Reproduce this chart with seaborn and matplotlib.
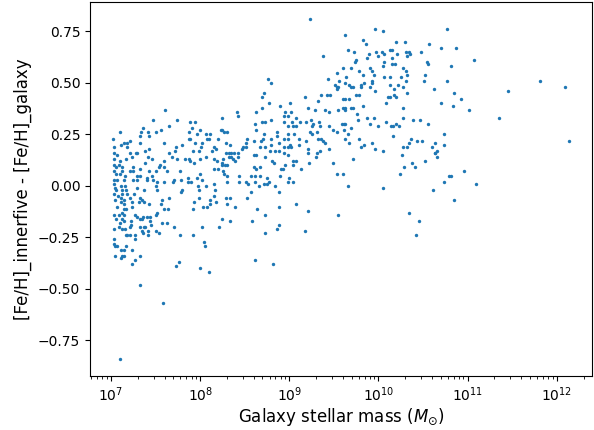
import numpy as np
import pandas as pd
import seaborn as sns
import matplotlib
matplotlib.use("Agg")
import matplotlib.pyplot as plt

# (log10 stellar mass, [Fe/H]_innerfive - [Fe/H]_galaxy)
pts_low_upper = [
    (7.61, 0.37), (7.47, 0.32), (7.74, 0.32), (7.65, 0.29), (7.36, 0.28), (7.89, 0.31), (7.94, 0.31),
    (7.91, 0.28), (7.10, 0.26), (7.34, 0.26), (7.42, 0.26), (7.50, 0.26), (7.56, 0.27), (7.87, 0.26),
    (8.00, 0.27), (7.02, 0.23), (7.32, 0.24), (7.43, 0.24), (7.89, 0.23), (7.96, 0.25), (8.07, 0.25),
    (8.11, 0.25), (8.08, 0.23), (7.21, 0.22), (7.18, 0.21), (7.15, 0.21), (7.11, 0.20), (7.33, 0.21),
    (7.18, 0.19), (7.03, 0.19), (7.87, 0.23), (7.59, 0.21), (7.73, 0.19), (7.80, 0.20), (7.94, 0.21),
    (8.02, 0.21), (8.10, 0.23), (8.20, 0.23), (7.03, 0.16), (7.07, 0.15), (7.21, 0.16), (7.28, 0.16),
    (7.38, 0.17), (7.43, 0.18), (7.65, 0.16), (7.72, 0.17), (7.92, 0.17), (7.99, 0.17), (8.01, 0.19),
    (8.13, 0.17), (8.15, 0.19), (7.24, 0.14), (7.29, 0.16), (7.41, 0.14), (7.46, 0.13), (7.68, 0.14),
    (7.74, 0.13), (7.83, 0.13), (7.87, 0.13), (7.89, 0.12), (7.93, 0.11), (8.00, 0.13), (8.07, 0.14),
    (8.15, 0.13), (8.19, 0.12), (7.03, 0.13), (7.10, 0.12), (7.17, 0.13), (7.38, 0.11), (7.55, 0.10),
    (7.59, 0.12), (7.54, 0.09), (7.63, 0.07), (7.03, 0.10), (7.06, 0.09), (7.09, 0.10), (7.12, 0.09),
    (7.25, 0.09), (7.25, 0.07), (7.32, 0.08), (7.21, 0.07), (7.03, 0.07), (7.06, 0.06), (7.10, 0.06),
    (7.12, 0.07), (7.16, 0.05), (7.43, 0.07), (7.46, 0.05), (7.50, 0.07), (7.59, 0.09), (7.77, 0.07),
    (7.71, 0.03), (7.86, 0.04), (7.96, 0.04), (8.00, 0.06), (8.15, 0.08), (8.20, 0.08), (7.29, 0.05),
    (7.33, 0.05), (7.40, 0.04),
]
pts_low_lower = [
    (7.03, 0.03), (7.07, 0.03), (7.15, 0.03), (7.25, 0.03), (7.29, 0.03), (7.40, 0.03), (7.47, 0.03),
    (7.52, 0.02), (7.59, 0.02), (7.69, 0.02), (7.78, 0.03), (7.86, 0.02), (7.90, 0.02), (8.02, 0.03),
    (8.07, 0.00), (8.15, 0.01), (7.03, 0.01), (7.05, -0.01), (7.11, 0.00), (7.16, 0.00), (7.06, -0.02),
    (7.12, -0.02), (7.17, -0.02), (7.29, -0.01), (7.37, -0.02), (7.51, 0.00), (7.52, -0.02), (7.99, -0.02),
    (7.98, 0.00), (7.80, -0.02), (7.78, -0.03), (8.17, -0.02), (7.03, -0.04), (7.08, -0.05), (7.12, -0.04),
    (7.18, -0.04), (7.26, -0.04), (7.04, -0.07), (7.11, -0.06), (7.15, -0.07), (7.21, -0.06), (7.33, -0.06),
    (7.35, -0.07), (7.65, -0.06), (7.99, -0.06), (8.11, -0.07), (8.15, -0.05), (7.11, -0.08), (7.15, -0.09),
    (7.24, -0.08), (7.31, -0.08), (7.37, -0.08), (7.43, -0.09), (7.57, -0.07), (7.56, -0.09), (7.93, -0.08),
    (8.18, -0.08), (7.07, -0.10), (7.17, -0.11), (7.24, -0.10), (7.59, -0.11), (7.64, -0.11), (7.92, -0.11),
    (8.03, -0.10), (8.08, -0.10), (8.11, -0.09), (7.15, -0.11), (7.12, -0.13), (7.03, -0.14), (7.09, -0.14),
    (7.14, -0.14), (7.27, -0.14), (7.50, -0.14), (7.52, -0.13), (7.29, -0.15), (7.33, -0.16), (7.36, -0.15),
    (7.40, -0.15), (7.44, -0.15), (7.06, -0.16), (7.12, -0.16), (7.15, -0.17), (7.22, -0.17), (7.35, -0.16),
    (7.44, -0.17), (7.10, -0.18), (7.09, -0.20), (7.12, -0.21), (7.21, -0.20), (7.22, -0.19), (7.45, -0.19),
    (7.57, -0.18), (7.63, -0.18), (7.37, -0.20), (7.33, -0.20), (7.03, -0.21), (7.16, -0.21), (7.38, -0.20),
    (7.35, -0.22), (7.71, -0.20), (8.02, -0.20), (8.21, -0.20), (7.41, -0.22), (7.50, -0.22), (7.36, -0.23),
    (7.54, -0.23), (7.41, -0.24), (7.17, -0.24), (7.18, -0.24), (7.21, -0.24), (7.27, -0.24), (7.77, -0.24),
    (7.92, -0.24), (7.27, -0.26), (7.03, -0.26), (7.03, -0.28), (7.04, -0.29), (7.07, -0.29), (7.17, -0.29),
    (8.04, -0.27), (8.05, -0.29), (7.11, -0.31), (7.15, -0.31), (7.24, -0.31), (7.12, -0.34), (7.15, -0.34),
    (7.04, -0.34), (7.32, -0.34), (7.11, -0.35), (7.27, -0.36), (7.76, -0.37), (7.24, -0.38), (7.73, -0.39),
    (8.00, -0.40), (8.10, -0.42), (7.33, -0.48), (7.58, -0.57), (7.10, -0.84),
]
pts_mid = [
    (8.72, 0.45), (8.69, 0.43), (9.18, 0.43), (9.36, 0.44), (9.42, 0.44), (9.32, 0.41), (8.77, 0.40),
    (9.01, 0.40), (8.90, 0.39), (8.69, 0.38), (9.21, 0.38), (9.29, 0.37), (9.40, 0.37), (9.44, 0.36),
    (8.41, 0.36), (8.63, 0.36), (8.95, 0.36), (9.02, 0.36), (8.99, 0.34), (8.94, 0.34), (8.43, 0.34),
    (8.25, 0.33), (9.07, 0.33), (8.79, 0.32), (8.73, 0.31), (8.69, 0.31), (8.94, 0.31), (9.03, 0.31),
    (9.12, 0.31), (9.24, 0.32), (9.33, 0.31), (9.27, 0.30), (9.19, 0.31), (8.62, 0.30), (8.63, 0.27),
    (8.98, 0.29), (9.04, 0.29), (9.08, 0.29), (9.26, 0.29), (9.34, 0.29), (9.44, 0.29), (8.24, 0.27),
    (8.27, 0.26), (8.30, 0.26), (8.23, 0.27), (9.23, 0.26), (9.25, 0.25), (9.31, 0.26), (8.99, 0.25),
    (9.05, 0.25), (8.72, 0.25), (8.86, 0.26), (8.86, 0.24), (8.98, 0.23), (8.94, 0.23), (8.88, 0.21),
    (8.79, 0.23), (8.70, 0.23), (8.68, 0.22), (8.52, 0.23), (8.51, 0.21), (8.60, 0.22), (8.29, 0.21),
    (8.33, 0.20), (9.32, 0.23), (9.36, 0.23), (9.38, 0.22), (9.40, 0.21), (9.11, 0.23), (9.19, 0.22),
    (8.73, 0.19), (8.79, 0.20), (9.01, 0.20), (9.11, 0.20), (8.99, 0.19), (9.02, 0.19), (8.94, 0.19),
    (8.48, 0.19), (8.47, 0.18), (8.51, 0.19), (8.67, 0.19), (8.60, 0.15), (8.18, 0.18), (8.84, 0.17),
    (8.89, 0.17), (8.78, 0.17), (8.94, 0.16), (8.98, 0.15), (8.63, 0.15), (9.21, 0.18), (9.21, 0.16),
    (9.31, 0.16), (9.35, 0.17), (9.44, 0.18), (8.29, 0.16), (8.32, 0.16), (8.35, 0.16), (8.38, 0.16),
    (8.42, 0.16), (8.32, 0.14), (8.35, 0.14), (8.37, 0.13), (8.39, 0.12), (8.42, 0.14), (8.26, 0.13),
    (8.24, 0.11), (8.25, 0.10), (8.28, 0.10), (8.30, 0.10), (8.73, 0.14), (8.81, 0.12), (8.83, 0.11),
    (9.07, 0.12), (9.04, 0.12), (9.30, 0.14), (9.22, 0.11), (8.95, 0.10), (9.04, 0.10), (9.13, 0.08),
    (8.91, 0.08), (8.93, 0.08), (8.60, 0.09), (8.63, 0.08), (8.67, 0.09), (8.26, 0.07), (8.27, 0.06),
    (8.30, 0.05), (8.44, 0.05), (8.57, 0.05), (8.61, 0.05), (8.67, 0.05), (8.75, 0.04), (8.90, 0.05),
    (9.00, 0.04), (8.44, 0.02), (8.51, 0.02), (8.54, 0.01), (8.61, 0.02), (8.66, 0.00), (8.72, 0.01),
    (8.75, 0.01), (8.77, 0.02), (8.84, 0.00), (8.99, 0.02), (9.04, 0.02), (8.30, 0.02), (8.57, -0.03),
    (8.88, -0.03), (8.29, -0.06), (8.34, -0.06), (8.53, -0.06), (8.30, -0.09), (8.39, -0.10), (8.64, -0.11),
    (8.89, -0.10), (9.08, -0.09), (9.21, -0.12), (8.73, -0.14), (8.24, -0.16), (8.33, -0.17), (8.58, -0.17),
    (8.89, -0.19), (8.86, -0.21), (8.73, -0.23), (9.18, -0.22), (8.62, -0.36), (8.82, -0.38), (9.23, 0.81),
    (8.76, 0.52), (8.80, 0.50),
]
pts_high = [
    (9.62, 0.73), (9.96, 0.76), (10.05, 0.75), (10.77, 0.76), (9.38, 0.63), (9.83, 0.71), (9.86, 0.69),
    (10.20, 0.70), (10.30, 0.70), (10.57, 0.69), (9.66, 0.66), (9.73, 0.65), (9.89, 0.64), (9.97, 0.65),
    (10.04, 0.65), (10.06, 0.64), (10.13, 0.66), (10.15, 0.66), (10.21, 0.64), (10.31, 0.65), (10.34, 0.65),
    (10.35, 0.64), (10.48, 0.65), (9.87, 0.62), (9.99, 0.63), (10.15, 0.62), (10.32, 0.63), (9.75, 0.61),
    (9.74, 0.60), (10.06, 0.60), (10.15, 0.59), (10.19, 0.59), (10.55, 0.60), (10.56, 0.59), (9.60, 0.57),
    (9.69, 0.57), (9.90, 0.57), (9.93, 0.56), (10.05, 0.58), (10.28, 0.57), (10.31, 0.56), (9.54, 0.55),
    (9.78, 0.56), (9.83, 0.54), (9.95, 0.54), (10.06, 0.53), (10.13, 0.53), (10.32, 0.54), (10.52, 0.54),
    (10.25, 0.53), (9.43, 0.52), (9.64, 0.53), (9.56, 0.51), (9.93, 0.51), (10.31, 0.51), (10.51, 0.51),
    (10.77, 0.51), (9.63, 0.50), (9.67, 0.49), (9.51, 0.49), (9.54, 0.48), (9.55, 0.48), (9.69, 0.48),
    (9.72, 0.48), (9.80, 0.48), (9.80, 0.49), (9.84, 0.50), (9.90, 0.48), (9.93, 0.50), (10.13, 0.49),
    (10.22, 0.49), (10.27, 0.48), (9.53, 0.47), (10.18, 0.47), (10.62, 0.47), (9.96, 0.46), (10.32, 0.45),
    (9.75, 0.44), (9.78, 0.44), (10.17, 0.44), (10.11, 0.43), (10.13, 0.43), (10.20, 0.43), (9.60, 0.42),
    (9.63, 0.42), (9.67, 0.42), (10.08, 0.40), (9.83, 0.39), (10.27, 0.38), (10.70, 0.40), (9.72, 0.38),
    (9.69, 0.38), (9.63, 0.38), (9.60, 0.38), (9.46, 0.44), (9.55, 0.37), (9.63, 0.37), (9.76, 0.35),
    (9.77, 0.32), (9.87, 0.33), (9.95, 0.33), (9.90, 0.30), (10.08, 0.31), (10.28, 0.33), (10.39, 0.32),
    (10.47, 0.32), (10.56, 0.30), (9.59, 0.30), (9.61, 0.30), (9.63, 0.30), (9.99, 0.29), (10.14, 0.29),
    (10.16, 0.29), (10.20, 0.30), (10.23, 0.29), (9.49, 0.27), (9.53, 0.26), (9.61, 0.27), (9.69, 0.28),
    (9.66, 0.25), (9.62, 0.23), (9.78, 0.23), (10.16, 0.24), (10.73, 0.25), (10.37, 0.23), (10.43, 0.22),
    (10.49, 0.22), (10.34, 0.21), (9.93, 0.21), (9.67, 0.21), (9.84, 0.20), (9.80, 0.19), (10.28, 0.19),
    (10.32, 0.19), (10.63, 0.21), (10.60, 0.19), (10.73, 0.20), (9.96, 0.18), (10.05, 0.17), (10.66, 0.17),
    (10.63, 0.16), (10.64, 0.16), (10.26, 0.15), (10.66, 0.14), (9.72, 0.13), (9.49, 0.11), (10.38, 0.11),
    (10.52, 0.12), (10.29, 0.09), (10.41, 0.09), (9.53, 0.06), (9.60, 0.06), (10.24, 0.06), (10.79, 0.05),
    (10.74, 0.02), (9.66, 0.00), (10.05, -0.01), (10.61, -0.02), (9.55, -0.14), (10.34, -0.13),
    (10.46, -0.17), (10.42, -0.24),
]
pts_massive = [
    (10.70, 0.67), (10.87, 0.67), (11.07, 0.61), (10.81, 0.58), (10.85, 0.45), (10.93, 0.42), (10.84, 0.39),
    (11.02, 0.37), (11.45, 0.46), (11.81, 0.51), (12.09, 0.48), (11.35, 0.33), (12.14, 0.22), (10.96, 0.07),
    (10.81, 0.05), (11.10, 0.01), (10.85, -0.07),
]

all_pts = pts_low_upper + pts_low_lower + pts_mid + pts_high + pts_massive
df = pd.DataFrame(all_pts, columns=["logm", "dfeh"])
df["mass"] = 10 ** df["logm"]

fig = plt.figure(figsize=(5.94, 4.30), dpi=100)
ax = fig.add_axes([90 / 594, 1 - 376 / 430, 502 / 594, 374 / 430])
sns.scatterplot(data=df, x="mass", y="dfeh", s=6, color="#1f77b4", linewidth=0, ax=ax)
ax.set_xscale("log")
ax.set_yticks([-0.75, -0.5, -0.25, 0.0, 0.25, 0.5, 0.75])
ax.set_xlabel(r"Galaxy stellar mass ($M_{\odot}$)", fontsize=12, labelpad=1)
ax.set_ylabel("[Fe/H]_innerfive - [Fe/H]_galaxy", fontsize=12)
plt.savefig("out.png", dpi=100)
